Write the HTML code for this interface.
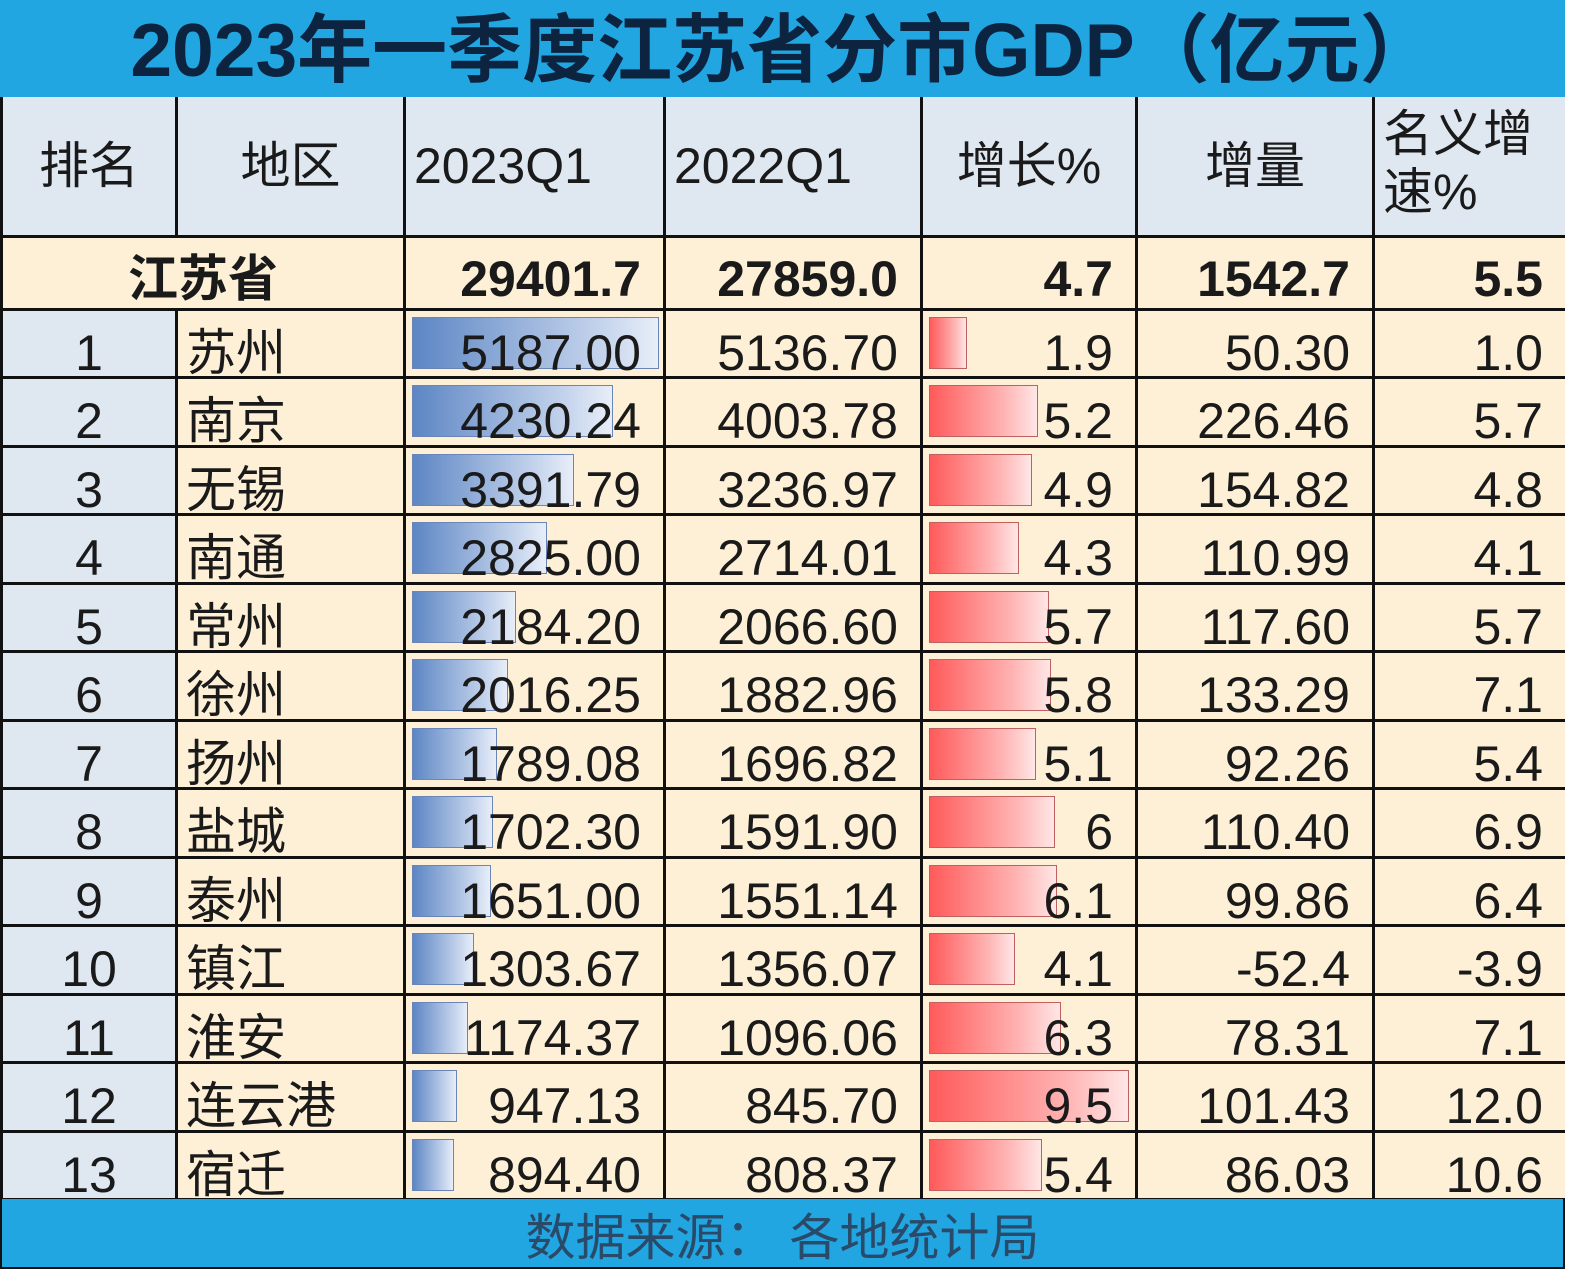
<!DOCTYPE html>
<html><head><meta charset="utf-8"><style>
*{margin:0;padding:0;box-sizing:border-box}
body{width:1575px;height:1280px;background:#fff;position:relative;overflow:hidden;font-family:"Liberation Sans","Noto Sans CJK SC",sans-serif;color:#1a1a1a}
.title{position:absolute;left:0;top:0;width:1565px;height:97px;background:#22a6e2;color:#0c2440;font-weight:bold;font-size:75px;text-align:center;line-height:100px}
.grid{position:absolute;left:0;top:97px;width:1565px;display:grid;grid-template-columns:172px 225px 257px 254px 212px 234px 190px;grid-template-rows:138px 70px 65px 66px 65px 66px 65px 66px 65px 66px 65px 66px 65px 66px 65px;gap:3px;background:#111;padding:0 0 3px 3px}
.grid>div{position:relative;background:#fdf0d6;font-size:50px;line-height:65px;padding-top:10px;white-space:nowrap;overflow:hidden}
.h{background:#dfe7f1 !important;font-size:50px !important;line-height:138px !important;padding-top:0 !important}
.rk{background:#dfe7f1 !important;text-align:center}
.c{text-align:center}.r{text-align:right;padding-right:22px}.l{padding-left:8px}
.p{font-weight:bold;font-size:50px !important;line-height:62px !important}
.bb{position:absolute;left:6px;top:6px;height:52px;background:linear-gradient(90deg,#5d86c4,#c9d7ee 80%,#e8eef8);border:1px solid #6a86b8}
.rb{position:absolute;left:6px;top:6px;height:52px;background:linear-gradient(90deg,#ff5a5a,#ffb5b5 70%,#ffe6e6);border:1px solid #c06060}
.t{position:relative}
.foot{position:absolute;left:0;top:1199px;width:1565px;height:70px;background:#22a6e2;color:#2a4a6a;font-size:50px;text-align:center;line-height:78px;border:2px solid #111;border-top:none}
</style></head><body>
<div class="title">2023年一季度江苏省分市GDP（亿元）</div>
<div class="grid">
<div class="h c">排名</div><div class="h c">地区</div><div class="h l">2023Q1</div><div class="h l">2022Q1</div><div class="h c">增长%</div><div class="h c">增量</div><div class="h l" style="line-height:58px !important;padding-top:8px !important">名义增<br>速%</div>
<div class="p c" style="grid-column:1/3">江苏省</div><div class="p r">29401.7</div><div class="p r">27859.0</div><div class="p r">4.7</div><div class="p r">1542.7</div><div class="p r">5.5</div>

<div class="rk">1</div><div class="l">苏州</div><div class="r"><span class="bb" style="width:247px"></span><span class="t">5187.00</span></div><div class="r">5136.70</div><div class="r"><span class="rb" style="width:38px"></span><span class="t">1.9</span></div><div class="r">50.30</div><div class="r">1.0</div>
<div class="rk">2</div><div class="l">南京</div><div class="r"><span class="bb" style="width:201px"></span><span class="t">4230.24</span></div><div class="r">4003.78</div><div class="r"><span class="rb" style="width:109px"></span><span class="t">5.2</span></div><div class="r">226.46</div><div class="r">5.7</div>
<div class="rk">3</div><div class="l">无锡</div><div class="r"><span class="bb" style="width:162px"></span><span class="t">3391.79</span></div><div class="r">3236.97</div><div class="r"><span class="rb" style="width:103px"></span><span class="t">4.9</span></div><div class="r">154.82</div><div class="r">4.8</div>
<div class="rk">4</div><div class="l">南通</div><div class="r"><span class="bb" style="width:135px"></span><span class="t">2825.00</span></div><div class="r">2714.01</div><div class="r"><span class="rb" style="width:90px"></span><span class="t">4.3</span></div><div class="r">110.99</div><div class="r">4.1</div>
<div class="rk">5</div><div class="l">常州</div><div class="r"><span class="bb" style="width:104px"></span><span class="t">2184.20</span></div><div class="r">2066.60</div><div class="r"><span class="rb" style="width:120px"></span><span class="t">5.7</span></div><div class="r">117.60</div><div class="r">5.7</div>
<div class="rk">6</div><div class="l">徐州</div><div class="r"><span class="bb" style="width:96px"></span><span class="t">2016.25</span></div><div class="r">1882.96</div><div class="r"><span class="rb" style="width:122px"></span><span class="t">5.8</span></div><div class="r">133.29</div><div class="r">7.1</div>
<div class="rk">7</div><div class="l">扬州</div><div class="r"><span class="bb" style="width:85px"></span><span class="t">1789.08</span></div><div class="r">1696.82</div><div class="r"><span class="rb" style="width:107px"></span><span class="t">5.1</span></div><div class="r">92.26</div><div class="r">5.4</div>
<div class="rk">8</div><div class="l">盐城</div><div class="r"><span class="bb" style="width:81px"></span><span class="t">1702.30</span></div><div class="r">1591.90</div><div class="r"><span class="rb" style="width:126px"></span><span class="t">6</span></div><div class="r">110.40</div><div class="r">6.9</div>
<div class="rk">9</div><div class="l">泰州</div><div class="r"><span class="bb" style="width:79px"></span><span class="t">1651.00</span></div><div class="r">1551.14</div><div class="r"><span class="rb" style="width:128px"></span><span class="t">6.1</span></div><div class="r">99.86</div><div class="r">6.4</div>
<div class="rk">10</div><div class="l">镇江</div><div class="r"><span class="bb" style="width:62px"></span><span class="t">1303.67</span></div><div class="r">1356.07</div><div class="r"><span class="rb" style="width:86px"></span><span class="t">4.1</span></div><div class="r">-52.4</div><div class="r">-3.9</div>
<div class="rk">11</div><div class="l">淮安</div><div class="r"><span class="bb" style="width:56px"></span><span class="t">1174.37</span></div><div class="r">1096.06</div><div class="r"><span class="rb" style="width:132px"></span><span class="t">6.3</span></div><div class="r">78.31</div><div class="r">7.1</div>
<div class="rk">12</div><div class="l">连云港</div><div class="r"><span class="bb" style="width:45px"></span><span class="t">947.13</span></div><div class="r">845.70</div><div class="r"><span class="rb" style="width:200px"></span><span class="t">9.5</span></div><div class="r">101.43</div><div class="r">12.0</div>
<div class="rk">13</div><div class="l">宿迁</div><div class="r"><span class="bb" style="width:42px"></span><span class="t">894.40</span></div><div class="r">808.37</div><div class="r"><span class="rb" style="width:113px"></span><span class="t">5.4</span></div><div class="r">86.03</div><div class="r">10.6</div>
</div>
<div class="foot">数据来源：&nbsp;各地统计局</div>
</body></html>
